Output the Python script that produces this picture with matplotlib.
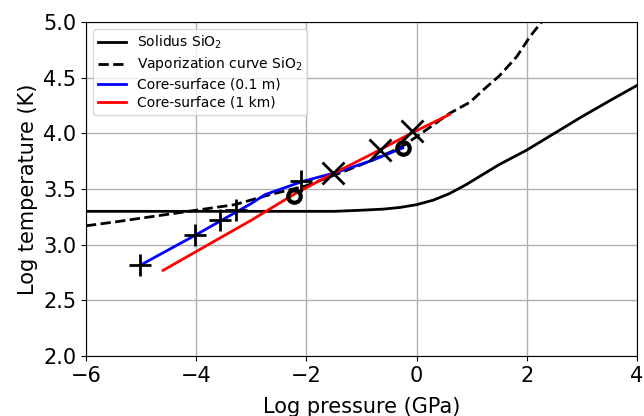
import numpy as np
import matplotlib
matplotlib.use('Agg')
import matplotlib.pyplot as plt

# solidus of SiO2 (log P in GPa, log T in K)
sol_p = [-6.0, -4.0, -2.0, -1.5, -1.0, -0.6, -0.3, 0.0, 0.3, 0.6, 0.9, 1.2, 1.5, 2.0, 2.4, 3.0, 3.6, 4.0]
sol_t = [3.30, 3.30, 3.30, 3.30, 3.31, 3.32, 3.335, 3.36, 3.40, 3.46, 3.54, 3.63, 3.72, 3.85, 3.97, 4.15, 4.32, 4.43]

# vaporization curve of SiO2
vap_p = [-6.0, -5.4, -4.0, -3.3, -2.66, -2.0, -1.57, -1.0, -0.3, 0.0, 0.6, 0.97, 1.21, 1.51, 1.82, 2.06, 2.3]
vap_t = [3.17, 3.21, 3.31, 3.36, 3.45, 3.53, 3.61, 3.72, 3.87, 3.97, 4.18, 4.28, 4.39, 4.52, 4.69, 4.87, 5.02]

# core-surface profiles
blue_p = [-5.0, -4.0, -3.5, -3.0, -2.75, -2.06, -1.45, -0.79, -0.25]
blue_t = [2.82, 3.09, 3.23, 3.37, 3.45, 3.57, 3.65, 3.76, 3.87]

red_p = [-4.6, -3.0, -2.2, -1.55, -0.79, -0.1, 0.6]
red_t = [2.77, 3.22, 3.46, 3.63, 3.82, 4.00, 4.17]

# markers
plus_p = [-5.02, -4.02, -3.57, -3.27, -2.09]
plus_t = [2.82, 3.09, 3.22, 3.31, 3.57]

cross_p = [-1.52, -0.66, -0.08]
cross_t = [3.64, 3.85, 4.02]

circ_p = [-2.22, -0.24]
circ_t = [3.44, 3.87]

fig = plt.figure(figsize=(6.44, 4.16), dpi=100)
ax = fig.add_axes([0.1335, 0.144, 0.8555, 0.803])

ax.plot(sol_p, sol_t, 'k-', lw=2, label='Solidus SiO$_2$')
ax.plot(vap_p, vap_t, 'k--', lw=2, label='Vaporization curve SiO$_2$')
ax.plot(blue_p, blue_t, color='b', lw=2, label='Core-surface (0.1 m)')
ax.plot(red_p, red_t, color='r', lw=2, label='Core-surface (1 km)')

ax.plot(plus_p, plus_t, 'k+', ms=16, mew=2)
ax.plot(cross_p, cross_t, 'kx', ms=16, mew=2)
ax.plot(circ_p, circ_t, 'ko', mfc='none', ms=9, mew=3)

ax.set_xlim(-6, 4)
ax.set_ylim(2.0, 5.0)
ax.set_xticks([-6, -4, -2, 0, 2, 4])
ax.set_yticks([2.0, 2.5, 3.0, 3.5, 4.0, 4.5, 5.0])
ax.tick_params(labelsize=15)
ax.grid(True, color='#b0b0b0', lw=1)
ax.set_xlabel('Log pressure (GPa)', size=15, labelpad=8)
ax.set_ylabel('Log temperature (K)', size=15)
ax.legend(loc='upper left', fontsize=10, labelspacing=0.3, borderpad=0.35)

fig.savefig('out.png', dpi=100)
